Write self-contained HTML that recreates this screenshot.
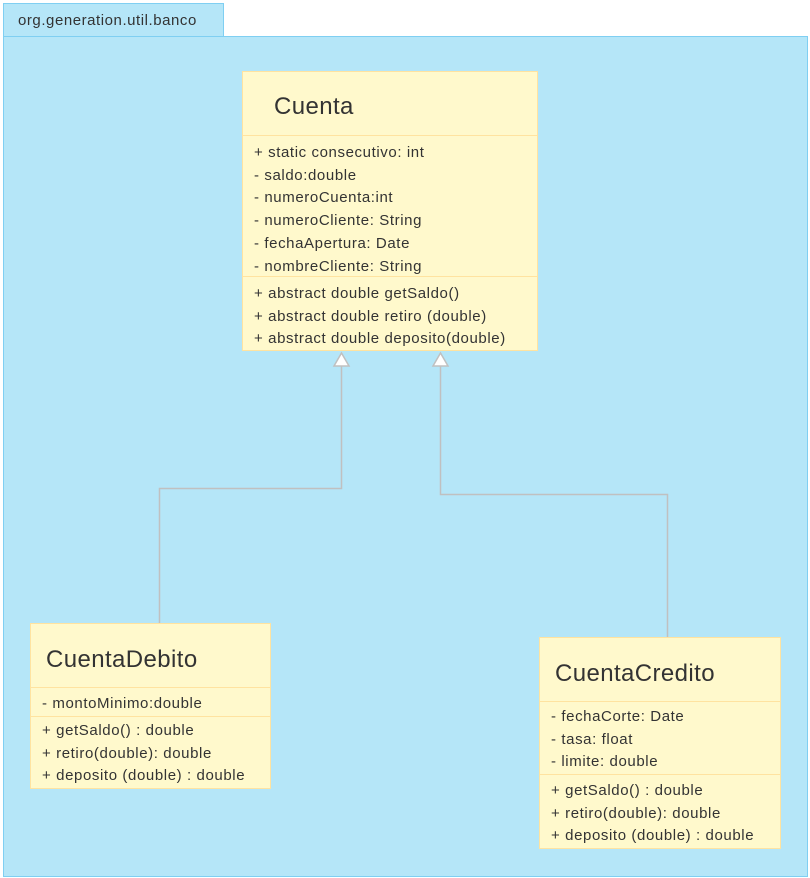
<!DOCTYPE html>
<html><head><meta charset="utf-8"><style>
body{margin:0;width:810px;height:878px;background:#fff;position:relative;font-family:"Liberation Sans",sans-serif;color:#333;overflow:hidden}
.a{position:absolute;box-sizing:border-box}
.tab{left:3px;top:3px;width:221px;height:34px;background:#b5e6f8;border:1px solid #7fcff2;font-size:15px;letter-spacing:0.55px;padding:8px 0 0 14px}
.pkg{left:3px;top:36px;width:805px;height:841px;background:#b5e6f8;border:1px solid #7fcff2}
.box{background:#fff9cc;border:1px solid #ffe3a0}
.h{font-size:24px;letter-spacing:0.4px;position:absolute}
.sep{position:absolute;left:0;right:0;border-top:1px solid #ffe3a0}
.t{position:absolute;font-size:15px;letter-spacing:0.6px;line-height:22.7px;white-space:pre}
</style></head><body>
<div class="a tab">org.generation.util.banco</div>
<div class="a pkg"></div>

<div class="a box" style="left:242px;top:71px;width:296px;height:280px">
<div class="h" style="left:31px;top:21px">Cuenta</div>
<div class="sep" style="top:63px"></div>
<div class="t" style="left:11px;top:70px">+ static consecutivo: int
- saldo:double
- numeroCuenta:int
- numeroCliente: String
- fechaApertura: Date
- nombreCliente: String</div>
<div class="sep" style="top:204px"></div>
<div class="t" style="left:11px;top:211px">+ abstract double getSaldo()
+ abstract double retiro (double)
+ abstract double deposito(double)</div>
</div>

<div class="a box" style="left:30px;top:623px;width:241px;height:166px">
<div class="h" style="left:15px;top:22px">CuentaDebito</div>
<div class="sep" style="top:63px"></div>
<div class="t" style="left:11px;top:69px">- montoMinimo:double</div>
<div class="sep" style="top:92px"></div>
<div class="t" style="left:11px;top:96px">+ getSaldo() : double
+ retiro(double): double
+ deposito (double) : double</div>
</div>

<div class="a box" style="left:539px;top:637px;width:242px;height:212px">
<div class="h" style="left:15px;top:22px">CuentaCredito</div>
<div class="sep" style="top:63px"></div>
<div class="t" style="left:11px;top:68px">- fechaCorte: Date
- tasa: float
- limite: double</div>
<div class="sep" style="top:136px"></div>
<div class="t" style="left:11px;top:142px">+ getSaldo() : double
+ retiro(double): double
+ deposito (double) : double</div>
</div>

<svg class="a" style="left:0;top:0" width="810" height="878">
<g fill="none" stroke="#c0c0c0" stroke-width="1.5">
<polyline points="341.5,366 341.5,488.5 159.5,488.5 159.5,623"/>
<polyline points="440.5,366 440.5,494.5 667.5,494.5 667.5,637"/>
</g>
<g fill="#fff" stroke="#c0c0c0" stroke-width="1.5">
<polygon points="341.5,353 334,366 349,366"/>
<polygon points="440.5,353 433,366 448,366"/>
</g>
</svg>
</body></html>
